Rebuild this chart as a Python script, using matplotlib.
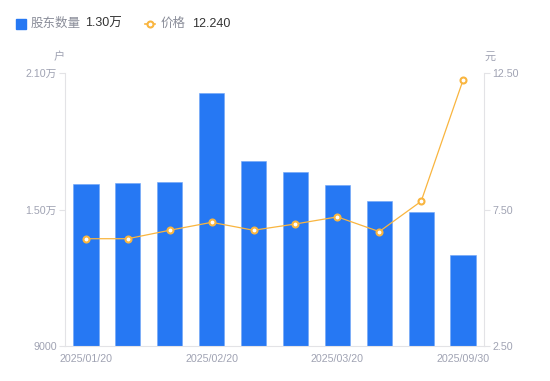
import matplotlib
matplotlib.use("Agg")
import matplotlib.pyplot as plt
from matplotlib.lines import Line2D
import numpy as np

plt.rcParams['font.family'] = ['Liberation Sans', 'Noto Sans CJK SC', 'DejaVu Sans']

dates = ["2025/01/20", "2025/01/31", "2025/02/10", "2025/02/20", "2025/02/28",
         "2025/03/10", "2025/03/20", "2025/03/31", "2025/06/30", "2025/09/30"]
holders = [16120, 16150, 16190, 20120, 17150, 16650, 16090, 15360, 14900, 13000]
price = [6.43, 6.43, 6.74, 7.03, 6.74, 6.97, 7.23, 6.69, 7.80, 12.24]
left_ticks = [9000, 15000, 21000]
left_labels = ["9000", "1.50万", "2.10万"]
right_ticks = [2.5, 7.5, 12.5]
right_labels = ["2.50", "7.50", "12.50"]
shown_idx = [0, 3, 6, 9]

BLUE = "#2678F3"
ORANGE = "#F9B53F"
GRAY = "#A0A3B3"
AXC = "#E3E3E6"

W, H = 550, 381
fig = plt.figure(figsize=(W / 100, H / 100), dpi=100)
ax = fig.add_axes([65 / W, 1 - 346 / H, (484 - 65) / W, (346 - 73) / H])
x = np.arange(len(dates))
ax.bar(x, holders, width=0.6, color=BLUE, edgecolor="#6FA4F7", linewidth=0.4, zorder=2)
ax.set_xlim(-0.5, len(dates) - 0.5)
ax.set_ylim(9000, 21000)
ax.set_yticks(left_ticks)
ax.set_yticklabels(left_labels)
ax.set_xticks([x[i] for i in shown_idx])
ax.set_xticklabels([dates[i] for i in shown_idx])

ax2 = ax.twinx()
ax2.plot(x, price, color=ORANGE, linewidth=0.9, marker="o", markersize=4.3,
         markerfacecolor="white", markeredgecolor=ORANGE, markeredgewidth=1.5, zorder=3)
ax2.set_ylim(2.5, 12.5)
ax2.set_yticks(right_ticks)
ax2.set_yticklabels(right_labels)

for a in (ax, ax2):
    for s in a.spines.values():
        s.set_visible(False)
    a.tick_params(colors=GRAY, labelsize=7.7, length=4, width=0.8, color=AXC)
ax.spines['left'].set_visible(True)
ax.spines['left'].set_color(AXC)
ax.spines['bottom'].set_visible(True)
ax.spines['bottom'].set_color(AXC)
ax2.spines['right'].set_visible(True)
ax2.spines['right'].set_color(AXC)
ax.tick_params(axis='x', length=0, pad=6)
ax.tick_params(axis='y', pad=2)
ax2.tick_params(axis='y', pad=2)

fig.text(59 / W, 1 - 57 / H, "户", color=GRAY, fontsize=8, ha="center", va="center")
fig.text(490 / W, 1 - 57 / H, "元", color=GRAY, fontsize=8, ha="center", va="center")

# legend
fig.patches.append(plt.Rectangle((16 / W, 1 - 29 / H), 10 / W, 10 / H, transform=fig.transFigure,
                                 color=BLUE, figure=fig))
fig.text(31 / W, 1 - 24 / H, "股东数量", color="#8A8D99", fontsize=9, va="center")
fig.text(85 / W, 1 - 24 / H, "1.30万", color="#333333", fontsize=9, va="center")
fig.lines.append(Line2D([145 / W, 155 / W], [1 - 24 / H, 1 - 24 / H], transform=fig.transFigure,
                        color=ORANGE, linewidth=1.2))
fig.lines.append(Line2D([150 / W], [1 - 24 / H], transform=fig.transFigure, color=ORANGE,
                        marker="o", markersize=4.3, markerfacecolor="white", markeredgewidth=1.5,
                        linestyle="none"))
fig.text(161 / W, 1 - 24 / H, "价格", color="#8A8D99", fontsize=9, va="center")
fig.text(192 / W, 1 - 24 / H, "12.240", color="#333333", fontsize=9, va="center")

fig.savefig("out.png", dpi=100)
